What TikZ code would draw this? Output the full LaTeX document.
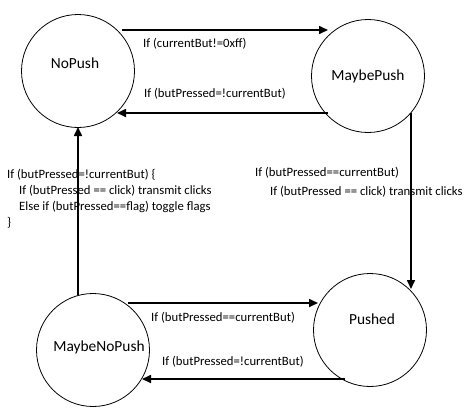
\documentclass[tikz,border=0pt]{standalone}
\usepackage{fontspec}
\setmainfont{Carlito}
\usetikzlibrary{arrows.meta}
\begin{document}
\begin{tikzpicture}[x=1pt,y=1pt,
  state/.style={circle,draw,line width=0.8pt,minimum size=113pt,inner sep=0pt},
  statetext/.style={font=\fontsize{15.4}{18}\selectfont,inner sep=0pt},
  conn/.style={line width=1.6pt,-{Triangle[length=9pt,width=8pt]}},
  lab/.style={font=\fontsize{12.7}{16}\selectfont,inner sep=0pt,anchor=west},
  blocklab/.style={font=\fontsize{12.7}{16}\selectfont,inner sep=0pt,align=left,anchor=north west}]
\useasboundingbox (0,0) rectangle (469,-413);
% states
\node[state,label={[statetext,xshift=-3pt,yshift=8pt]center:NoPush}] (np) at (78,-71) {};
\node[state,label={[statetext]center:MaybePush}] (mp) at (368,-76) {};
\node[state,label={[statetext,xshift=2pt,yshift=11pt]center:Pushed}] (pu) at (370,-330) {};
\node[state,label={[statetext,xshift=6pt,yshift=3pt]center:MaybeNoPush}] (mnp) at (93,-350) {};
% connectors
\draw[conn] ([shift={(44,41)}]np.center) -- ([shift={(-40,46)}]mp.center);
\draw[conn] ([shift={(-40,-37)}]mp.center) -- ([shift={(39,-42)}]np.center);
\draw[conn] ([shift={(43,-37)}]mp.center) -- ([shift={(41,41)}]pu.center);
\draw[conn] ([shift={(-15,55)}]mnp.center) -- ([shift={(0,-56)}]np.center);
\draw[conn] ([shift={(35,47)}]mnp.center) -- ([shift={(-52,27)}]pu.center);
\draw[conn] ([shift={(-25,-49)}]pu.center) -- ([shift={(49,-29)}]mnp.center);
% labels
\node[lab] (l1) at (143,-44) {If (currentBut!=0xff)};
\node[lab] (l2) at (144,-94) {If (butPressed=!currentBut)};
\node[lab] (l5) at (151,-318) {If (butPressed==currentBut)};
\node[lab] (l6) at (162,-362) {If (butPressed=!currentBut)};
\node[blocklab] (l3) at (255,-167) {If (butPressed==currentBut)\\[3pt]\hspace*{15pt}If (butPressed == click) transmit clicks};
\node[blocklab] (l4) at (7,-169) {If (butPressed=!currentBut) \{\\\hspace*{12pt}If (butPressed == click) transmit clicks\\\hspace*{12pt}Else if (butPressed==flag) toggle flags\\\}};
\end{tikzpicture}
\end{document}
